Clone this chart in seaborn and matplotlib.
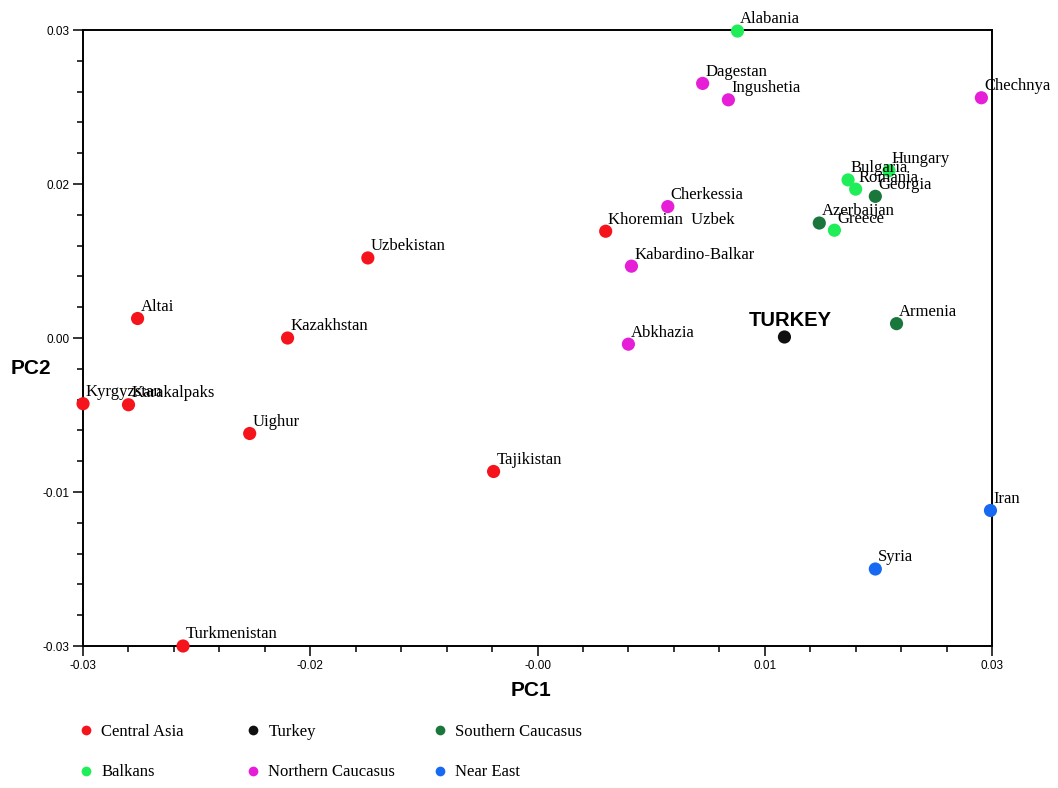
import numpy as np
import pandas as pd
import seaborn as sns
import matplotlib
matplotlib.use('Agg')
import matplotlib.pyplot as plt
from matplotlib.ticker import MultipleLocator, FixedLocator, FixedFormatter
from matplotlib.lines import Line2D

# values
names = ['Kyrgyzstan', 'Karakalpaks', 'Altai', 'Kazakhstan', 'Uighur', 'Uzbekistan',
         'Turkmenistan', 'Tajikistan', 'Khoremian  Uzbek', 'Cherkessia', 'Kabardino-Balkar',
         'Abkhazia', 'Dagestan', 'Ingushetia', 'Alabania', 'Chechnya', 'Hungary',
         'Bulgaria', 'Romania', 'Georgia', 'Azerbaijan', 'Greece', 'TURKEY', 'Armenia',
         'Iran', 'Syria']
pc1 = [-0.0300, -0.0270, -0.0264, -0.0165, -0.0190, -0.0112,
       -0.0234, -0.0029, 0.0045, 0.0086, 0.0062,
       0.0060, 0.0109, 0.0126, 0.0132, 0.0293, 0.0232,
       0.0205, 0.0210, 0.0223, 0.0186, 0.0196, 0.0163, 0.0237,
       0.0299, 0.0223]
pc2 = [-0.0064, -0.0065, 0.0019, 0.0000, -0.0093, 0.0078,
       -0.0300, -0.0130, 0.0104, 0.0128, 0.0070,
       -0.0006, 0.0248, 0.0232, 0.0299, 0.0234, 0.0163,
       0.0154, 0.0145, 0.0138, 0.0112, 0.0105, 0.0001, 0.0014,
       -0.0168, -0.0225]
groups = ['Central Asia', 'Central Asia', 'Central Asia', 'Central Asia', 'Central Asia',
          'Central Asia', 'Central Asia', 'Central Asia', 'Central Asia',
          'Northern Caucasus', 'Northern Caucasus', 'Northern Caucasus',
          'Northern Caucasus', 'Northern Caucasus', 'Balkans', 'Northern Caucasus',
          'Balkans', 'Balkans', 'Balkans', 'Southern Caucasus', 'Southern Caucasus',
          'Balkans', 'Turkey', 'Southern Caucasus', 'Near East', 'Near East']

legend_cols = [['Central Asia', 'Balkans'],
               ['Turkey', 'Northern Caucasus'],
               ['Southern Caucasus', 'Near East']]
palette = {'Central Asia': '#f5141c', 'Balkans': '#20ee58', 'Turkey': '#101010',
           'Northern Caucasus': '#e61ed8', 'Southern Caucasus': '#19773c',
           'Near East': '#1869f2'}

tick_pos = [-0.03, -0.015, 0.0, 0.015, 0.03]
xtick_labels = ['-0.03', '-0.02', '-0.00', '0.01', '0.03']
ytick_labels = ['-0.03', '-0.01', '0.00', '0.02', '0.03']

df = pd.DataFrame({'name': names, 'PC1': pc1, 'PC2': pc2, 'group': groups})

sns.set_style('white')
plt.rcParams['font.family'] = ['Liberation Serif', 'DejaVu Serif']
plt.rcParams['text.color'] = 'black'
plt.rcParams['xtick.color'] = 'black'
plt.rcParams['ytick.color'] = 'black'

fig = plt.figure(figsize=(10.58, 7.88), dpi=100)
ax = fig.add_axes([0.0785, 0.1802, 0.8591, 0.7817])

sns.scatterplot(data=df, x='PC1', y='PC2', hue='group', palette=palette,
                s=90, linewidth=0, legend=False, ax=ax, zorder=3, clip_on=False)

for n, x, y in zip(names, pc1, pc2):
    if n == 'TURKEY':
        ax.annotate(n, (x, y), xytext=(4, 8), textcoords='offset points',
                    ha='center', va='baseline', fontsize=14.5, fontweight='bold',
                    family='Liberation Sans', zorder=4)
    else:
        ax.annotate(n, (x, y), xytext=(2, 5.5), textcoords='offset points',
                    ha='left', va='baseline', fontsize=12, zorder=4)

ax.set_xlim(-0.03, 0.03)
ax.set_ylim(-0.03, 0.03)
ax.xaxis.set_major_locator(FixedLocator(tick_pos))
ax.xaxis.set_major_formatter(FixedFormatter(xtick_labels))
ax.yaxis.set_major_locator(FixedLocator(tick_pos))
ax.yaxis.set_major_formatter(FixedFormatter(ytick_labels))
ax.xaxis.set_minor_locator(MultipleLocator(0.003))
ax.yaxis.set_minor_locator(MultipleLocator(0.003))
ax.tick_params(which='major', direction='out', length=7, width=1.1,
               labelsize=8.5, pad=3, bottom=True, left=True)
ax.tick_params(which='minor', direction='out', length=4, width=1.1,
               bottom=True, left=True)
for lab in ax.get_xticklabels() + ax.get_yticklabels():
    lab.set_family('Liberation Sans')
for sp in ax.spines.values():
    sp.set_color('black')
    sp.set_linewidth(1.4)

ax.set_xlabel('')
ax.set_ylabel('')
fig.text(531 / 1058, 1 - 691 / 788, 'PC1', ha='center', va='center',
         fontsize=15, fontweight='bold', family='Liberation Sans')
fig.text(31 / 1058, 1 - 368 / 788, 'PC2', ha='center', va='center',
         fontsize=15, fontweight='bold', family='Liberation Sans')

col_x = [78 / 1058, 245 / 1058, 432 / 1058]
for cx, col in zip(col_x, legend_cols):
    handles = [Line2D([], [], marker='o', linestyle='', markersize=7,
                      markerfacecolor=palette[g], markeredgewidth=0) for g in col]
    fig.legend(handles, col, loc='center left', bbox_to_anchor=(cx, 1 - 752 / 788),
               frameon=False, fontsize=12, handlelength=0.95, handletextpad=0.45,
               borderpad=0, borderaxespad=0, labelspacing=1.5)

fig.savefig('out.png', dpi=100)
